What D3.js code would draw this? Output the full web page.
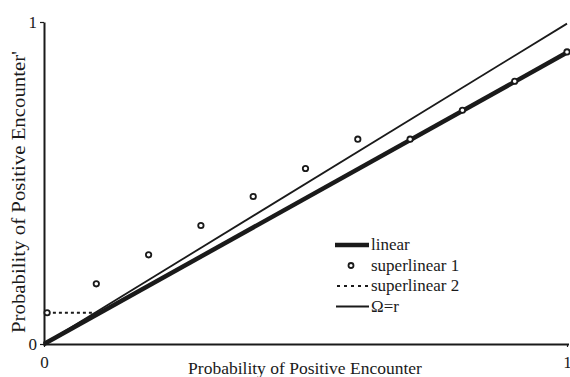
<!DOCTYPE html>
<html>
<head>
<meta charset="utf-8">
<script src="https://cdn.jsdelivr.net/npm/d3@7"></script>
<style>
  html, body { margin: 0; padding: 0; background: #fff; }
  svg { display: block; }
</style>
</head>
<body>
<svg id="chart" width="570" height="377"></svg>
<script>
// ---- data ----
const xTicks = [0, 1];
const yTicks = [0, 1];
const xLabel = "Probability of Positive Encounter";
const yLabel = "Probability of Positive Encounter'";

const linearX = [0, 1];
const linearY = [0, 0.905];

const identityX = [0, 1];
const identityY = [0, 0.995];

const super1X = [0.006, 0.1, 0.2, 0.3, 0.4, 0.5, 0.6, 0.7, 0.8, 0.9, 1.0];
const super1Y = [0.097, 0.187, 0.277, 0.368, 0.458, 0.545, 0.636, 0.636, 0.726, 0.816, 0.907];

const super2X = [0.017, 0.094];
const super2Y = [0.097, 0.097];

const legendLabels = ["linear", "superlinear 1", "superlinear 2", "\u03A9=r"];

// ---- drawing ----
const FONT = "'Liberation Serif', 'Times New Roman', serif";
const svg = d3.select("#chart");
const ink = "#1a1a1a";

const x = d3.scaleLinear().domain([0, 1]).range([44, 567]);
const y = d3.scaleLinear().domain([0, 1]).range([344, 22]);

const line = d3.line().x(d => x(d[0])).y(d => y(d[1]));

// Ω = r line
svg.append("path")
  .datum(d3.zip(identityX, identityY))
  .attr("d", line)
  .attr("fill", "none").attr("stroke", ink).attr("stroke-width", 1.8);

// linear line
svg.append("path")
  .datum(d3.zip(linearX, linearY))
  .attr("d", line)
  .attr("fill", "none").attr("stroke", ink).attr("stroke-width", 4.5);

// superlinear 2 dotted
svg.append("path")
  .datum(d3.zip(super2X, super2Y))
  .attr("d", line)
  .attr("fill", "none").attr("stroke", ink).attr("stroke-width", 1.8)
  .attr("stroke-dasharray", "3,3");

// axes
const xAxis = d3.axisBottom(x).tickValues(xTicks).tickFormat(d3.format("d"))
  .tickSize(3).tickSizeOuter(0).tickPadding(9);
const gx = svg.append("g").attr("transform", `translate(0,${y(0)})`).call(xAxis);
gx.select(".domain").attr("stroke", ink).attr("stroke-width", 2)
  .attr("d", `M${x(0) - 1},0.5H${x(1) + 2}`);
gx.selectAll(".tick line").attr("stroke", ink).attr("stroke-width", 1.2);
gx.selectAll(".tick text").attr("font-size", 17).style("font-family", FONT).attr("fill", ink);

const yAxis = d3.axisLeft(y).tickValues(yTicks).tickFormat(d3.format("d"))
  .tickSize(4).tickSizeOuter(0).tickPadding(3);
const gy = svg.append("g").attr("transform", `translate(${x(0)},0)`).call(yAxis);
gy.select(".domain").attr("stroke", ink).attr("stroke-width", 2);
gy.selectAll(".tick line").attr("stroke", ink).attr("stroke-width", 1.2);
gy.selectAll(".tick text").attr("font-size", 17).style("font-family", FONT).attr("fill", ink);

// superlinear 1 circles
svg.append("g").selectAll("circle")
  .data(d3.zip(super1X, super1Y))
  .join("circle")
  .attr("cx", d => x(d[0])).attr("cy", d => y(d[1]))
  .attr("r", 2.7)
  .attr("fill", "#fff").attr("stroke", ink).attr("stroke-width", 1.8);

// axis labels
svg.append("text")
  .attr("x", 305).attr("y", 374)
  .attr("text-anchor", "middle")
  .attr("font-size", 17.5)
  .style("font-family", FONT).attr("fill", ink)
  .text(xLabel);

svg.append("text")
  .attr("transform", "translate(25,192) rotate(-90)")
  .attr("text-anchor", "middle")
  .attr("font-size", 18)
  .attr("textLength", 282)
  .attr("lengthAdjust", "spacingAndGlyphs")
  .style("font-family", FONT).attr("fill", ink)
  .text(yLabel);

// legend
const legY = [245, 265.5, 286, 306.5];
const lg = svg.append("g");
legendLabels.forEach((lab, i) => {
  const cy = legY[i];
  if (i === 0) {
    lg.append("line").attr("x1", 335).attr("x2", 369).attr("y1", cy).attr("y2", cy)
      .attr("stroke", ink).attr("stroke-width", 4.5);
  } else if (i === 1) {
    lg.append("circle").attr("cx", 351).attr("cy", cy).attr("r", 2.5)
      .attr("fill", "#fff").attr("stroke", ink).attr("stroke-width", 1.8);
  } else if (i === 2) {
    lg.append("line").attr("x1", 337).attr("x2", 369).attr("y1", cy).attr("y2", cy)
      .attr("stroke", ink).attr("stroke-width", 1.8).attr("stroke-dasharray", "3,4");
  } else {
    lg.append("line").attr("x1", 336).attr("x2", 369).attr("y1", cy).attr("y2", cy)
      .attr("stroke", ink).attr("stroke-width", 1.8);
  }
  lg.append("text").attr("x", 371).attr("y", cy + 5)
    .attr("font-size", 17).style("font-family", FONT).attr("fill", ink).text(lab);
});
</script>
</body>
</html>
